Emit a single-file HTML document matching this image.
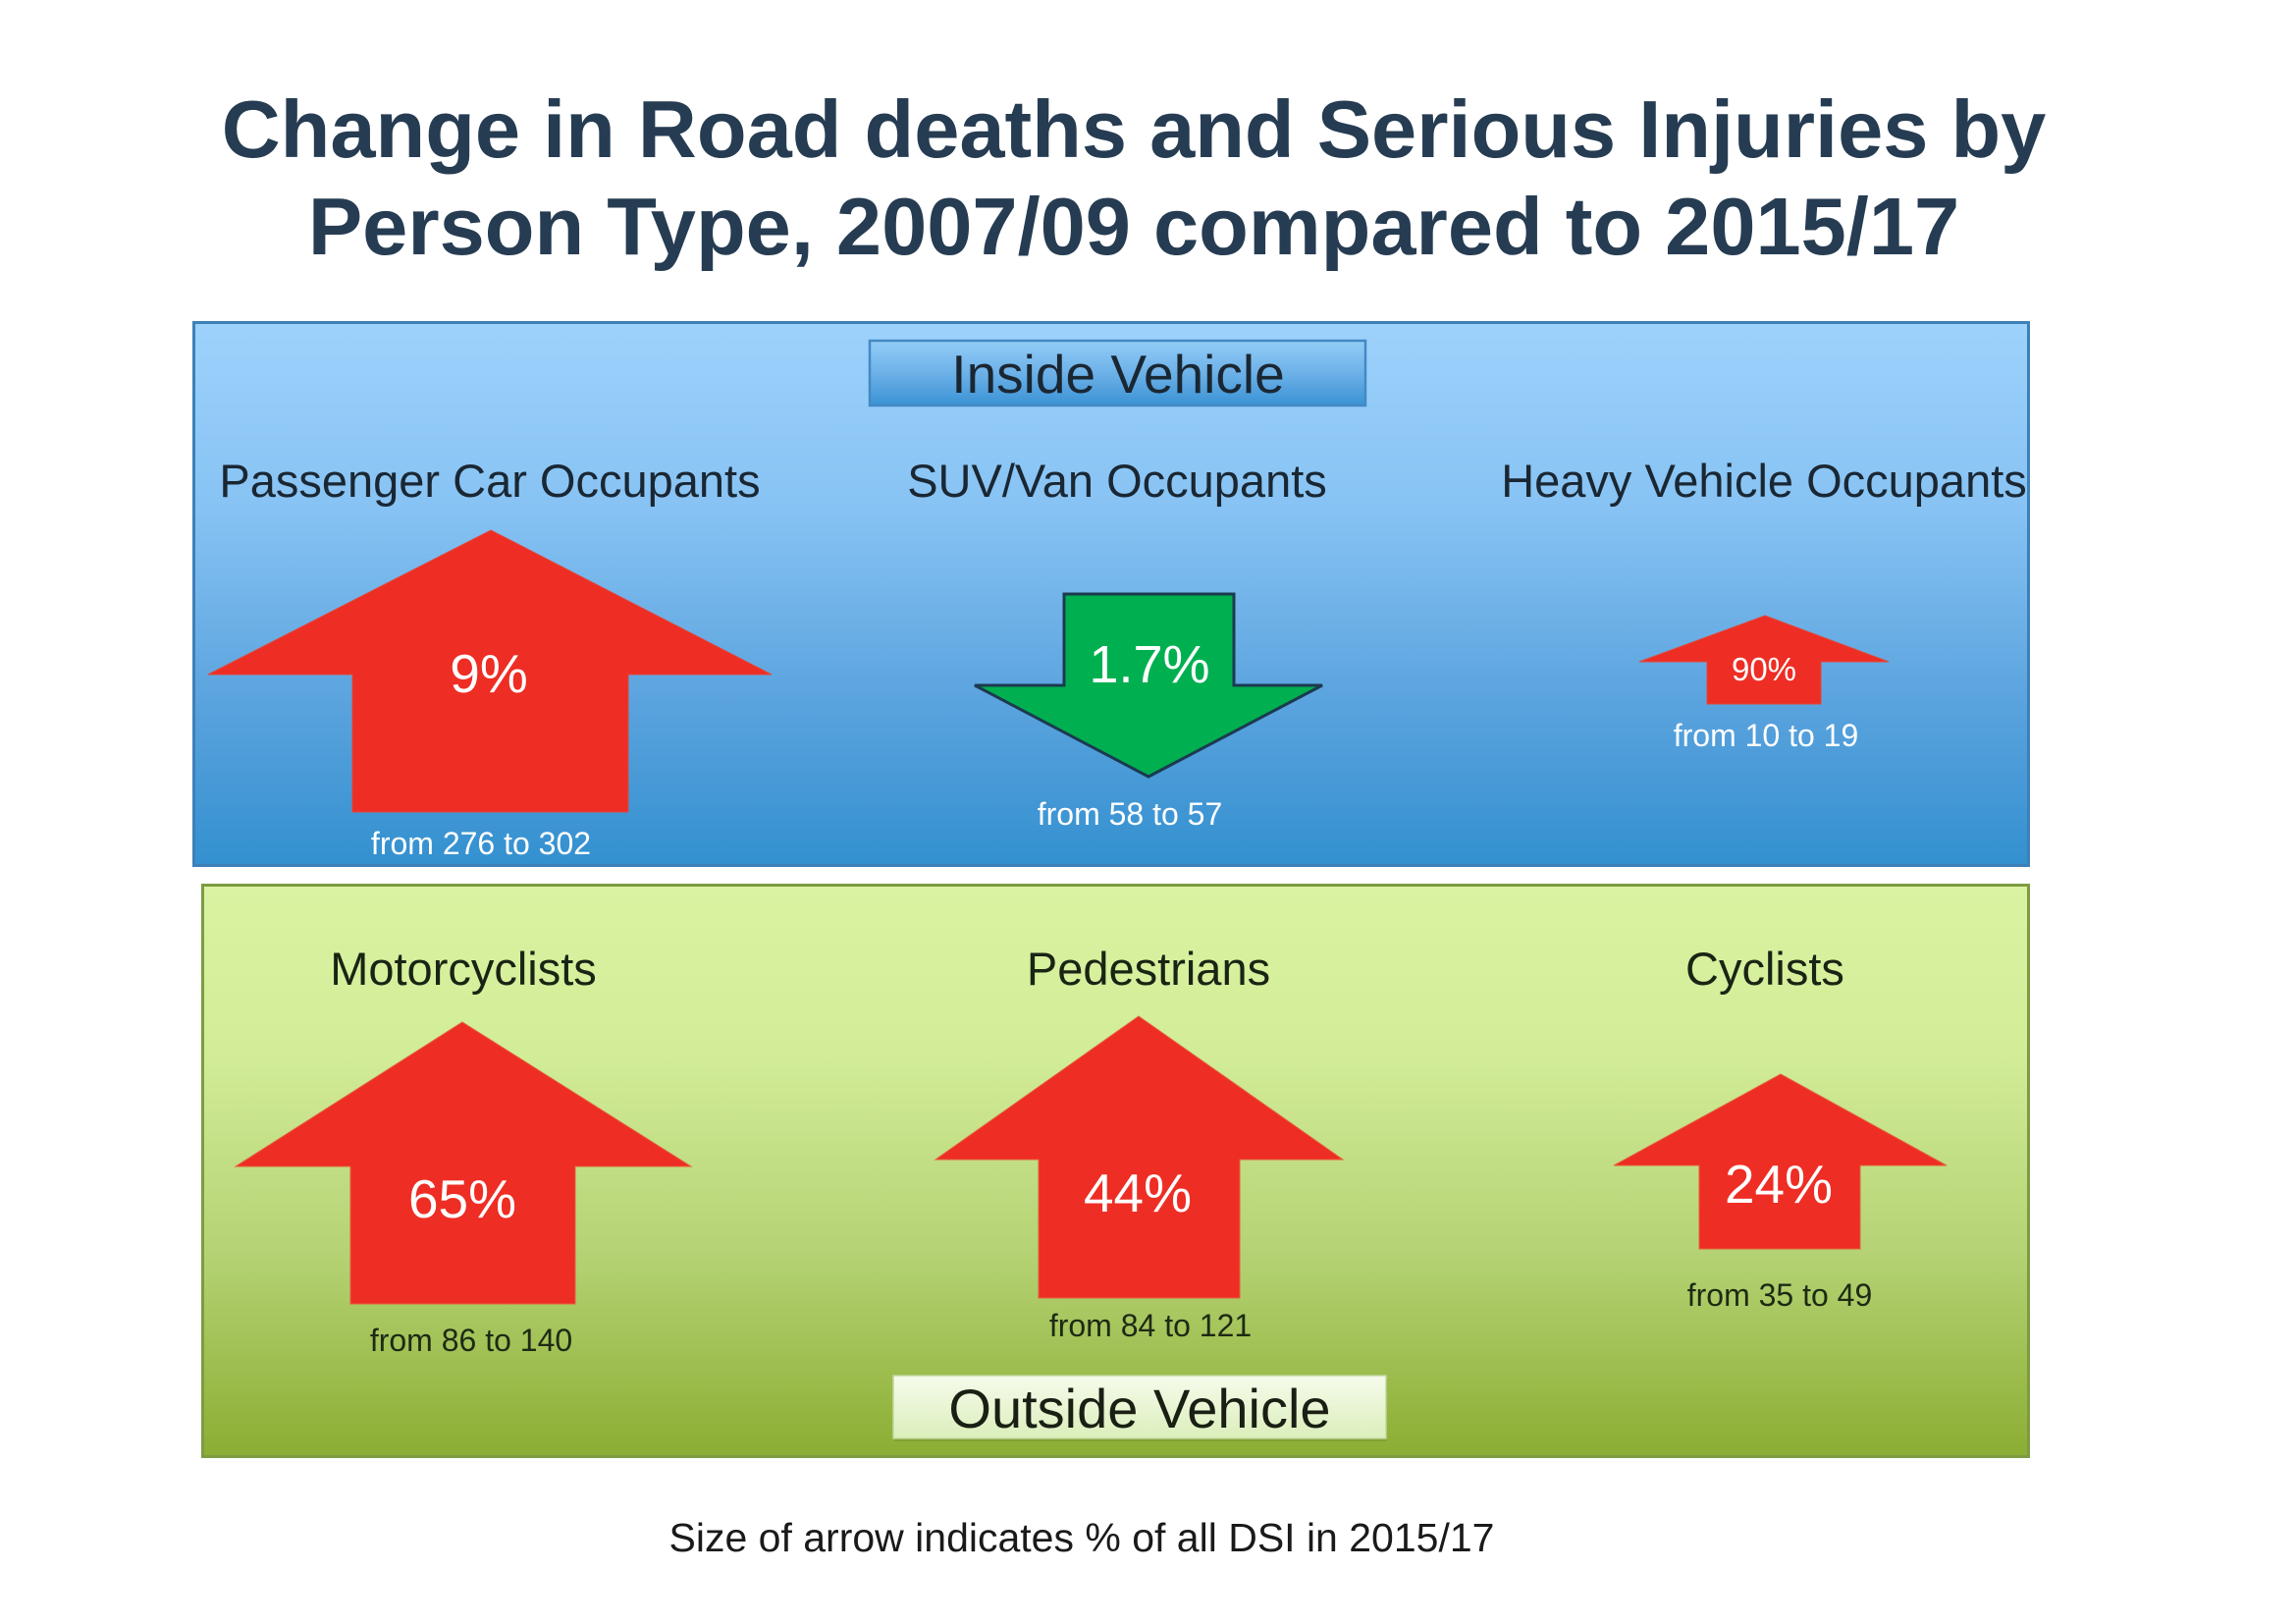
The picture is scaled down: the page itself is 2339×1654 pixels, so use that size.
<!DOCTYPE html>
<html>
<head>
<meta charset="utf-8">
<style>
  html, body { margin: 0; padding: 0; background: #ffffff; }
  body { width: 2339px; height: 1654px; overflow: hidden; }
  svg { display: block; }
  text { font-family: "Liberation Sans", Arial, sans-serif; }
</style>
</head>
<body>
<svg width="2339" height="1654" viewBox="0 0 2339 1654" xmlns="http://www.w3.org/2000/svg">
  <defs>
    <linearGradient id="blueBg" x1="0" y1="0" x2="0" y2="1">
      <stop offset="0" stop-color="#9dd2fc"/>
      <stop offset="0.35" stop-color="#86c2f3"/>
      <stop offset="0.7" stop-color="#5aa3de"/>
      <stop offset="1" stop-color="#3390cf"/>
    </linearGradient>
    <linearGradient id="greenBg" x1="0" y1="0" x2="0" y2="1">
      <stop offset="0" stop-color="#daf3a2"/>
      <stop offset="0.3" stop-color="#d2ec97"/>
      <stop offset="0.65" stop-color="#b4d273"/>
      <stop offset="1" stop-color="#8cad33"/>
    </linearGradient>
    <linearGradient id="insideBox" x1="0" y1="0" x2="0" y2="1">
      <stop offset="0" stop-color="#93cdf7"/>
      <stop offset="0.5" stop-color="#6db1e8"/>
      <stop offset="1" stop-color="#3a92d4"/>
    </linearGradient>
    <linearGradient id="outsideBox" x1="0" y1="0" x2="0" y2="1">
      <stop offset="0" stop-color="#f6fbec"/>
      <stop offset="1" stop-color="#dbefbb"/>
    </linearGradient>
  </defs>

  <!-- Title -->
  <g fill="#263c52" font-weight="bold" font-size="83" text-anchor="middle">
    <text x="1155" y="160">Change in Road deaths and Serious Injuries by</text>
    <text x="1155" y="259">Person Type, 2007/09 compared to 2015/17</text>
  </g>

  <!-- Blue panel -->
  <rect x="197.5" y="328.5" width="1869" height="553" fill="url(#blueBg)" stroke="#3d80b8" stroke-width="3"/>

  <!-- Inside Vehicle box -->
  <rect x="886" y="347" width="505" height="66" fill="url(#insideBox)" stroke="#4489c3" stroke-width="2.5"/>
  <text x="1139" y="400" font-size="55" fill="#1a2733" text-anchor="middle">Inside Vehicle</text>

  <!-- Blue panel labels -->
  <g font-size="47" fill="#1a2733" text-anchor="middle">
    <text x="499" y="506">Passenger Car Occupants</text>
    <text x="1138" y="506">SUV/Van Occupants</text>
    <text x="1797" y="506">Heavy Vehicle Occupants</text>
  </g>

  <!-- Passenger arrow -->
  <polygon points="500,540 786,687 640,687 640,827 359,827 359,687 212,687" fill="#ee2d24" stroke="#e0473b" stroke-width="1"/>
  <text x="498" y="705" font-size="55" fill="#ffffff" text-anchor="middle">9%</text>
  <text x="490" y="870" font-size="32" fill="#ffffff" text-anchor="middle">from 276 to 302</text>

  <!-- SUV green down arrow -->
  <polygon points="1084,605 1257,605 1257,698 1347,698 1170,791 993,698 1084,698" fill="#00b050" stroke="#1b3a50" stroke-width="3" stroke-linejoin="miter"/>
  <text x="1171" y="695" font-size="54" fill="#ffffff" text-anchor="middle">1.7%</text>
  <text x="1151" y="840" font-size="32" fill="#ffffff" text-anchor="middle">from 58 to 57</text>

  <!-- Heavy vehicle arrow -->
  <polygon points="1798,627 1924,674 1855,674 1855,717 1739,717 1739,674 1670,674" fill="#ee2d24" stroke="#e0473b" stroke-width="1"/>
  <text x="1797" y="693" font-size="33" fill="#ffffff" text-anchor="middle">90%</text>
  <text x="1799" y="760" font-size="32" fill="#ffffff" text-anchor="middle">from 10 to 19</text>

  <!-- Green panel -->
  <rect x="206.5" y="901.5" width="1860" height="582" fill="url(#greenBg)" stroke="#7d9c42" stroke-width="3"/>

  <!-- Green panel labels -->
  <g font-size="47" fill="#1a2414" text-anchor="middle">
    <text x="472" y="1003">Motorcyclists</text>
    <text x="1170" y="1003">Pedestrians</text>
    <text x="1798" y="1003">Cyclists</text>
  </g>

  <!-- Motorcyclists arrow -->
  <polygon points="471,1041 704,1188 586,1188 586,1328 357,1328 357,1188 240,1188" fill="#ee2d24" stroke="#e5603a" stroke-width="1"/>
  <text x="471" y="1240" font-size="55" fill="#ffffff" text-anchor="middle">65%</text>
  <text x="480" y="1376" font-size="32" fill="#1e2a14" text-anchor="middle">from 86 to 140</text>

  <!-- Pedestrians arrow -->
  <polygon points="1160,1035 1368,1181 1263,1181 1263,1322 1058,1322 1058,1181 953,1181" fill="#ee2d24" stroke="#e5603a" stroke-width="1"/>
  <text x="1159" y="1234" font-size="55" fill="#ffffff" text-anchor="middle">44%</text>
  <text x="1172" y="1361" font-size="32" fill="#1e2a14" text-anchor="middle">from 84 to 121</text>

  <!-- Cyclists arrow -->
  <polygon points="1814,1094 1983,1187 1895,1187 1895,1272 1731,1272 1731,1187 1644,1187" fill="#ee2d24" stroke="#e5603a" stroke-width="1"/>
  <text x="1812" y="1225" font-size="55" fill="#ffffff" text-anchor="middle">24%</text>
  <text x="1813" y="1330" font-size="32" fill="#1e2a14" text-anchor="middle">from 35 to 49</text>

  <!-- Outside Vehicle box -->
  <rect x="911" y="1404" width="502" height="64" fill="#6f8a2c" opacity="0.35"/>
  <rect x="910" y="1401" width="502" height="64" fill="url(#outsideBox)" stroke="#c3d89e" stroke-width="1.5"/>
  <text x="1161" y="1454" font-size="56" fill="#1a1f14" text-anchor="middle">Outside Vehicle</text>

  <!-- Footnote -->
  <text x="1102" y="1580" font-size="41" fill="#1a1a1a" text-anchor="middle">Size of arrow indicates % of all DSI in 2015/17</text>
</svg>
</body>
</html>
